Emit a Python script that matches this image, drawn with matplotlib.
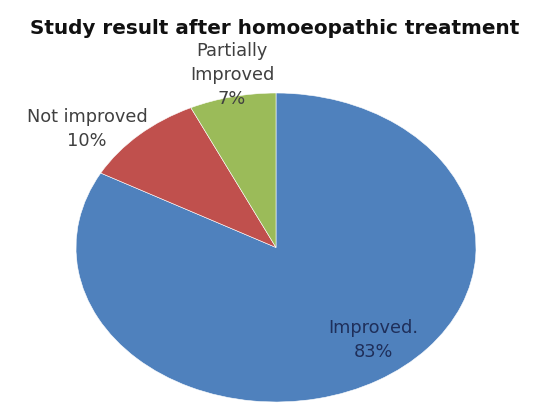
import matplotlib
matplotlib.use("Agg")
import matplotlib.pyplot as plt

# data
categories = ["Improved.", "Not improved", "Partially\nImproved"]
shares = [83, 10, 7]
slice_colors = ["#4F81BD", "#C0504D", "#9BBB59"]

plt.rcParams["font.family"] = ["DejaVu Sans"]

fig = plt.figure(figsize=(5.44, 4.05), dpi=100)
fig.patch.set_facecolor("white")

# pie is drawn stretched (wider than tall), like the source image
ax = fig.add_axes([76 / 544, 3 / 405, 400 / 544, 309 / 405])
wedges, _ = ax.pie(shares, colors=slice_colors, startangle=90,
                   counterclock=False, radius=1,
                   wedgeprops=dict(edgecolor="white", linewidth=0.4))
ax.set_aspect("auto")
ax.set_xlim(-1, 1)
ax.set_ylim(-1, 1)

fig.text(275 / 544, 1 - 28 / 405, "Study result after homoeopathic treatment",
         ha="center", va="center", fontsize=14.4, fontweight="bold", color="#111111")

labels = [f"{c}\n{s}%" for c, s in zip(categories, shares)]
fig.text(373 / 544, 1 - 340 / 405, labels[0], ha="center", va="center",
         fontsize=12.8, color="#1F2F5A", linespacing=1.4)
fig.text(87 / 544, 1 - 129 / 405, labels[1], ha="center", va="center",
         fontsize=12.8, color="#404040", linespacing=1.4)
fig.text(232 / 544, 1 - 75 / 405, labels[2], ha="center", va="center",
         fontsize=12.8, color="#404040", linespacing=1.4)

fig.savefig("out.png", dpi=100, facecolor="white")
